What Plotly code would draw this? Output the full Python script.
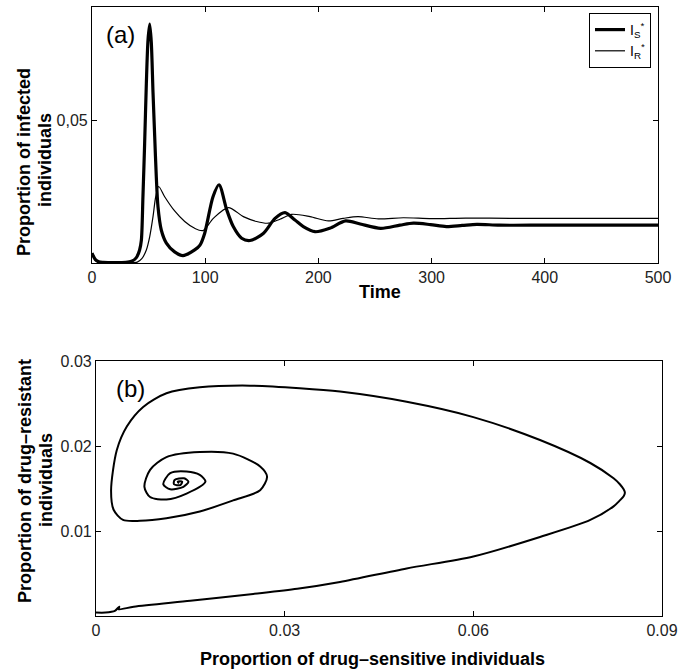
import plotly.graph_objects as go
from plotly.subplots import make_subplots

# ---- panel (a): time courses of the infected proportions ----
t_sensitive = [0, 3, 6, 10, 20, 30, 35, 39, 42, 43.6, 45, 46.5, 48, 49.5, 51,
               52.4, 53.9, 55.4, 56.8, 58.3, 61.2, 65.7, 73, 80.4, 90.7, 95.4,
               99.5, 106.9, 112.2, 119, 124.8, 132.2, 139.6, 151.3, 161.7,
               170.5, 179.3, 186.7, 197, 210, 224, 237, 255, 272, 284, 299,
               313, 327, 340, 360, 400, 450, 500]
i_sensitive = [0.0035, 0.0012, 0.0004, 0.0002, 0.0001, 0.0002, 0.0006, 0.0018,
               0.0045, 0.008, 0.0233, 0.042, 0.063, 0.0785, 0.0840,
               0.0775, 0.060, 0.0444, 0.0303, 0.0197, 0.0116, 0.0070, 0.0039,
               0.0026, 0.0046, 0.0063,
               0.0104, 0.0233, 0.0275, 0.0187, 0.0128, 0.0087, 0.0079, 0.0104,
               0.0157, 0.0177, 0.0151, 0.0128, 0.0110, 0.0122, 0.0148, 0.0137,
               0.0122, 0.0133, 0.0140, 0.0135, 0.0128, 0.0132, 0.0136, 0.0133,
               0.0133, 0.0133, 0.0133]

t_resistant = [0, 3, 6, 10, 20, 30, 40, 44, 48, 51, 53.9, 56.3, 58.9, 64.2, 73,
               81.9, 90.7, 98, 107.2, 120.4, 133.7, 145.4, 155.7, 166, 176.4,
               192.6, 208.8, 222, 235, 253, 275, 300, 330, 370, 420, 500]
i_resistant = [0.0030, 0.0010, 0.0004, 0.0002, 0.0001, 0.0001, 0.0003, 0.0015,
               0.0046, 0.0093, 0.0163, 0.0233, 0.0269, 0.0233, 0.0183,
               0.0146, 0.0122, 0.0114, 0.0157, 0.0195, 0.0163, 0.0146, 0.0140,
               0.0154, 0.0171, 0.0163, 0.0148, 0.0157, 0.0163, 0.0155, 0.0159,
               0.0156, 0.0158, 0.0157, 0.0157, 0.0157]

time_ticks = [0, 100, 200, 300, 400, 500]
infected_ticks = [0.05]
infected_ticktext = ["0,05"]

# ---- panel (b): phase portrait, sensitive vs resistant ----
phase_sensitive = [0.0000, 0.0015, 0.0030, 0.0037, 0.0036, 0.0060, 0.0150,
                   0.0250, 0.0320, 0.0388, 0.0494, 0.0600, 0.0706, 0.0786,
                   0.0823, 0.0833, 0.0839, 0.0841, 0.0839, 0.0833, 0.0823,
                   0.0786, 0.0706, 0.0600, 0.0494,
                   0.0388, 0.0324, 0.0245, 0.0165, 0.0112, 0.0075, 0.0049,
                   0.0033, 0.0024, 0.0028, 0.0043, 0.0070, 0.0112, 0.0165,
                   0.0218, 0.0261, 0.0272, 0.0261, 0.0218, 0.0165, 0.0112,
                   0.0086, 0.0077, 0.0086, 0.0112, 0.0144, 0.0174, 0.0165,
                   0.0144, 0.0118, 0.0107, 0.0118, 0.0139, 0.0147, 0.0140,
                   0.0125, 0.0124, 0.0134, 0.0137, 0.0130, 0.0132]
phase_resistant = [0.0004, 0.0004, 0.0006, 0.0011, 0.0008, 0.0011, 0.0018,
                   0.0026, 0.0032, 0.0040, 0.0056, 0.0070, 0.0093, 0.0113,
                   0.0129, 0.0136, 0.0141, 0.0145, 0.0149, 0.0155, 0.0162,
                   0.0180, 0.0207, 0.0234, 0.0252,
                   0.0264, 0.0268, 0.0271, 0.0269, 0.0262, 0.0246, 0.0223,
                   0.0195, 0.0148, 0.0125, 0.0113, 0.0112, 0.0115, 0.0123,
                   0.0136, 0.0148, 0.0164, 0.0176, 0.0191, 0.0193, 0.0187,
                   0.0172, 0.0152, 0.0140, 0.0137, 0.0144, 0.0158, 0.0166,
                   0.0170, 0.0168, 0.0155, 0.0149, 0.0152, 0.0158, 0.0162,
                   0.0160, 0.0155, 0.0154, 0.0158, 0.0158, 0.0156]

sens_ticks = [0, 0.03, 0.06, 0.09]
sens_ticktext = ["0", "0.03", "0.06", "0.09"]
res_ticks = [0.01, 0.02, 0.03]
res_ticktext = ["0.01", "0.02", "0.03"]

W, H = 694, 669
FONT = "Liberation Sans, Arial, sans-serif"


def px_x(p):
    return p / W


def px_y(p):
    return 1 - p / H


fig = make_subplots(rows=2, cols=1)

fig.add_trace(go.Scatter(x=t_sensitive, y=i_sensitive, mode="lines",
                         line=dict(color="black", width=3.2, shape="spline",
                                   smoothing=0.8),
                         name="I<sub>S</sub><sup>*</sup>"), row=1, col=1)
fig.add_trace(go.Scatter(x=t_resistant, y=i_resistant, mode="lines",
                         line=dict(color="black", width=1.2, shape="spline",
                                   smoothing=0.8),
                         name="I<sub>R</sub><sup>*</sup>"), row=1, col=1)
fig.add_trace(go.Scatter(x=phase_sensitive, y=phase_resistant, mode="lines",
                         line=dict(color="black", width=2, shape="spline",
                                   smoothing=0.8),
                         showlegend=False), row=2, col=1)

axis_style = dict(showline=True, linecolor="black", linewidth=1.2,
                  mirror="allticks", ticks="inside", ticklen=5,
                  tickcolor="black", showgrid=False, zeroline=False,
                  automargin=False,
                  tickfont=dict(family=FONT, size=16, color="#222"))

fig.update_xaxes(**axis_style)
fig.update_yaxes(**axis_style)

fig.update_layout(
    xaxis=dict(domain=[px_x(92), px_x(658)], range=[0, 500],
               tickvals=time_ticks),
    yaxis=dict(domain=[px_y(263), px_y(7)], range=[0, 0.09],
               tickvals=infected_ticks, ticktext=infected_ticktext),
    xaxis2=dict(domain=[px_x(96), px_x(662)], range=[0, 0.09],
                tickvals=sens_ticks, ticktext=sens_ticktext),
    yaxis2=dict(domain=[px_y(616), px_y(361)], range=[0, 0.03],
                tickvals=res_ticks, ticktext=res_ticktext),
)

title_font = dict(family=FONT, size=18, color="black", weight="bold")
labels = [
    ("Proportion of infected", 24, 162, -90),
    ("individuals", 45, 160, -90),
    ("Time", 380, 292, 0),
    ("Proportion of drug–resistant", 25, 481, -90),
    ("individuals", 46, 480, -90),
    ("Proportion of drug–sensitive individuals", 372, 659, 0),
]
for text, x, y, ang in labels:
    fig.add_annotation(text=text, x=px_x(x), y=px_y(y), xref="paper",
                       yref="paper", showarrow=False, textangle=ang,
                       font=title_font, xanchor="center", yanchor="middle")

panel_font = dict(family=FONT, size=24, color="black")
fig.add_annotation(text="(a)", x=px_x(120), y=px_y(35), xref="paper",
                   yref="paper", showarrow=False, font=panel_font,
                   xanchor="center", yanchor="middle")
fig.add_annotation(text="(b)", x=px_x(130), y=px_y(388), xref="paper",
                   yref="paper", showarrow=False, font=panel_font,
                   xanchor="center", yanchor="middle")

fig.update_layout(
    width=W, height=H,
    margin=dict(l=0, r=0, t=0, b=0, autoexpand=False),
    paper_bgcolor="white", plot_bgcolor="white",
    font=dict(family=FONT, color="black"),
    legend=dict(x=px_x(651), y=px_y(13), xanchor="right", yanchor="top",
                bordercolor="black", borderwidth=1, bgcolor="white",
                font=dict(family=FONT, size=14, color="black"),
                tracegroupgap=0, itemwidth=30),
)

fig.write_html("out.html")
